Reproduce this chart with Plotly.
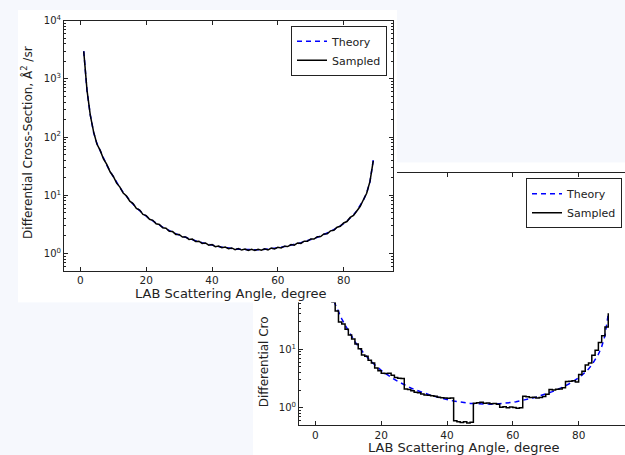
import math
import plotly.graph_objects as go

# ---------------- data ----------------
angles = list(range(1, 90))

theory = [3000, 620, 240, 120, 78, 58, 43, 33, 26, 20.5,
          16.5, 13.5, 11.2, 9.5, 8.1, 7.0, 6.1, 5.4, 4.8, 4.35,
          3.95, 3.6, 3.3, 3.05, 2.83, 2.63, 2.46, 2.31, 2.18, 2.06,
          1.96, 1.87, 1.79, 1.71, 1.64, 1.58, 1.52, 1.47, 1.42, 1.38,
          1.34, 1.31, 1.28, 1.25, 1.23, 1.21, 1.19, 1.18, 1.17, 1.16,
          1.15, 1.15, 1.15, 1.15, 1.16, 1.17, 1.18, 1.2, 1.22, 1.24,
          1.27, 1.3, 1.34, 1.38, 1.42, 1.47, 1.52, 1.58, 1.65, 1.72,
          1.8, 1.89, 1.99, 2.1, 2.23, 2.38, 2.55, 2.75, 2.98, 3.25,
          3.6, 4.05, 4.6, 5.4, 6.5, 8.2, 11, 17, 40]

sampled_top = [2980, 635, 236, 123, 76, 59, 42, 34, 25.3, 21,
               16.1, 13.8, 10.9, 9.7, 7.9, 7.2, 5.95, 5.55, 4.68, 4.45,
               3.85, 3.7, 3.22, 3.13, 2.76, 2.7, 2.4, 2.37, 2.12, 2.11,
               1.91, 1.92, 1.74, 1.76, 1.6, 1.62, 1.48, 1.51, 1.38, 1.42,
               1.3, 1.34, 1.25, 1.28, 1.2, 1.24, 1.16, 1.21, 1.14, 1.19,
               1.12, 1.18, 1.12, 1.18, 1.13, 1.2, 1.15, 1.23, 1.19, 1.27,
               1.24, 1.33, 1.31, 1.42, 1.38, 1.51, 1.48, 1.62, 1.61, 1.77,
               1.76, 1.94, 1.95, 2.16, 2.18, 2.44, 2.5, 2.82, 2.92, 3.33,
               3.53, 4.15, 4.5, 5.5, 6.4, 8.35, 10.8, 17.3, 39]

sampled_bottom = [2900, 600, 250, 110, 64, 45, 29, 27, 22, 17.5,
                  15, 12.3, 10.2, 8.0, 7.6, 6.5, 5.8, 4.8, 4.3, 3.9,
                  3.85, 3.9, 3.6, 3.3, 3.2, 3.15, 2.1, 2.05, 1.95, 1.85,
                  1.8, 1.72, 1.66, 1.64, 1.6, 1.57, 1.52, 1.49, 1.47, 1.46,
                  1.47, 0.6, 0.58, 0.56, 0.58, 0.55, 0.57, 1.2, 1.22, 1.24,
                  1.2, 1.21, 1.17, 1.18, 1.15, 1.02, 1.04, 1.0, 1.03, 1.01,
                  0.98, 1.0, 1.58, 1.55, 1.5, 1.52, 1.47, 1.5, 1.56, 1.7,
                  2.05, 2.02, 2.08, 2.1, 2.2, 2.8, 2.85, 2.9, 2.75, 3.7,
                  4.2, 5.4, 5.8, 7.9, 9.6, 13, 17, 24, 41]

series_names = ["Theory", "Sampled"]
x_tick_vals = [0, 20, 40, 60, 80]
y_tick_vals = [1, 10, 100, 1000, 10000]
y_tick_text = ["10<sup>0</sup>", "10<sup>1</sup>", "10<sup>2</sup>",
               "10<sup>3</sup>", "10<sup>4</sup>"]
# the lower copy's labels above 10^1 sit under the upper copy and are not seen
y_tick_text_lower = ["10<sup>0</sup>", "10<sup>1</sup>", "", "", ""]
x_title = "LAB Scattering Angle, degree"
y_title = "Differential Cross-Section, Å<sup>2</sup> /sr"
y_title_visible = "Differential Cro"   # only this part of the lower copy shows

# ---------------- layout helpers ----------------
W, H = 625, 455
def px(x):
    return x / W
def py(y):
    return 1 - y / H

FONT = "DejaVu Sans"
INK = "#222222"
PAPER = "#f6f8fd"
PX_PER_DEG = 3.29

minor_vals = [m * 10 ** e for e in range(-1, 4) for m in range(2, 10)]

def x_axis(domain, rng, anchor, mirror):
    return dict(domain=domain, range=rng, anchor=anchor, tickmode="array",
                tickvals=x_tick_vals, ticks="inside", ticklen=4,
                tickcolor=INK, showline=True, linecolor=INK, linewidth=1,
                mirror=mirror, showgrid=False, zeroline=False,
                tickfont=dict(family=FONT, size=10.5, color=INK))

def y_axis(domain, anchor, mirror, ticktext):
    return dict(domain=domain, type="log", range=[math.log10(0.5), 4],
                anchor=anchor, tickmode="array", tickvals=y_tick_vals,
                ticktext=ticktext, ticks="inside", ticklen=4,
                tickcolor=INK, showline=True, linecolor=INK, linewidth=1,
                mirror=mirror, showgrid=False, zeroline=False,
                tickfont=dict(family=FONT, size=10, color=INK),
                minor=dict(tickmode="array", tickvals=minor_vals,
                           ticks="inside", ticklen=2, tickcolor=INK,
                           showgrid=False))

fig = go.Figure()

# lower (partly hidden) copy : subplot xy
fig.add_trace(go.Scatter(x=angles, y=theory, mode="lines", name=series_names[0],
                         line=dict(color="#0000ff", width=1.5, dash="5px,4px"),
                         xaxis="x", yaxis="y", legend="legend2"))
fig.add_trace(go.Scatter(x=angles, y=sampled_bottom, mode="lines", name=series_names[1],
                         line=dict(color="black", width=1.5, shape="hv"),
                         xaxis="x", yaxis="y", legend="legend2"))

# white sheet of the upper copy : subplot x2y2 (no marks)
fig.add_trace(go.Scatter(x=[None], y=[None], mode="lines", showlegend=False,
                         hoverinfo="skip", xaxis="x2", yaxis="y2"))

# upper copy : subplot x3y3
fig.add_trace(go.Scatter(x=angles, y=theory, mode="lines", name=series_names[0],
                         line=dict(color="#0000ff", width=1.5, dash="5px,4px"),
                         xaxis="x3", yaxis="y3", legend="legend"))
fig.add_trace(go.Scatter(x=angles, y=sampled_top, mode="lines", name=series_names[1],
                         line=dict(color="black", width=1.5),
                         xaxis="x3", yaxis="y3", legend="legend"))

legend_style = dict(bgcolor="white", bordercolor=INK, borderwidth=1,
                    xanchor="right", yanchor="top", traceorder="normal",
                    itemwidth=30,
                    font=dict(family=FONT, size=11, color=INK))

fig.update_layout(
    width=W, height=H, margin=dict(l=0, r=0, t=0, b=0),
    paper_bgcolor=PAPER, plot_bgcolor="white",
    font=dict(family=FONT, color=INK),
    xaxis=x_axis([px(299), 1], [-5, -5 + (W - 299) / PX_PER_DEG], "y", "ticks"),
    yaxis=y_axis([py(425), py(169)], "x", False, y_tick_text_lower),
    xaxis2=dict(domain=[px(18), px(397)], anchor="y2", visible=False,
                range=[0, 1], fixedrange=True),
    yaxis2=dict(domain=[py(300), py(3)], anchor="x2", visible=False,
                range=[0, 1], fixedrange=True),
    xaxis3=x_axis([px(64), px(393)], [-5, 95], "y3", "ticks"),
    yaxis3=y_axis([py(268), py(14)], "x3", "ticks", y_tick_text),
    legend=dict(x=px(387), y=py(19), **legend_style),
    legend2=dict(x=px(622), y=py(174), **legend_style),
    shapes=[dict(type="rect", xref="paper", yref="paper", layer="below",
                 x0=px(253), x1=1, y0=0, y1=py(158),
                 fillcolor="white", line=dict(width=0))],
    annotations=[
        dict(text=x_title, xref="paper", yref="paper", x=px(230), y=py(291),
             xanchor="center", yanchor="middle", showarrow=False,
             font=dict(family=FONT, size=13, color=INK)),
        dict(text=y_title, xref="paper", yref="paper", x=px(27), y=py(138),
             xanchor="center", yanchor="middle", textangle=-90, showarrow=False,
             font=dict(family=FONT, size=12, color=INK)),
        dict(text=x_title, xref="paper", yref="paper", x=px(464), y=py(447),
             xanchor="center", yanchor="middle", showarrow=False,
             font=dict(family=FONT, size=13, color=INK)),
        dict(text=y_title_visible, xref="paper", yref="paper", x=px(264), y=py(409),
             xanchor="center", yanchor="bottom", textangle=-90, showarrow=False,
             font=dict(family=FONT, size=12, color=INK)),
    ],
)

fig.write_html("out.html")
